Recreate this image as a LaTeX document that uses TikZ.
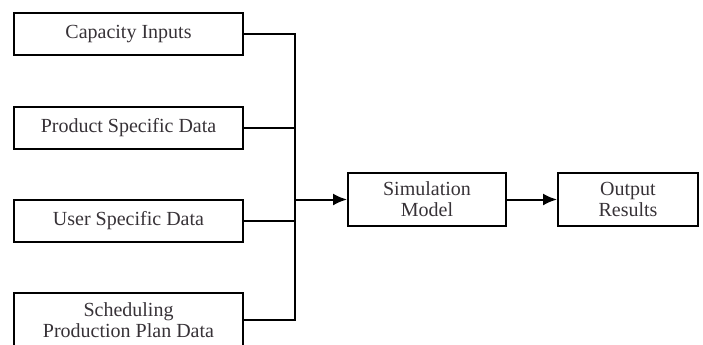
\documentclass[tikz,border=0pt]{standalone}
\usepackage{fontspec}
\setmainfont{Liberation Serif}
\usetikzlibrary{arrows.meta}
\definecolor{inktext}{RGB}{55,50,55}

\begin{document}
\begin{tikzpicture}[x=0.5pt,y=-0.5pt,
    box/.style={draw, line width=1pt, align=center, inner sep=0pt,
        minimum width=114.5pt, minimum height=21pt, text=inktext,
        font=\fontsize{10}{10.5}\selectfont},
    link/.style={line width=1pt},
    flow/.style={line width=1pt, -{Latex[length=7pt,width=6pt]}}]
    \useasboundingbox (0,0) rectangle (703,344);
    % inputs
    \node[box] (capacity) at (128.5,34) {Capacity Inputs};
    \node[box] (product) at (128.5,127.5) {Product Specific Data};
    \node[box] (user) at (128.5,220.5) {User Specific Data};
    \node[box, minimum height=27pt] (schedule) at (128.5,320) {Scheduling\\Production Plan Data};
    % model and results
    \node[box, minimum width=79pt, minimum height=26.5pt] (model) at (427,199.5) {Simulation\\Model};
    \node[box, minimum width=70pt, minimum height=26.5pt] (results) at (628,199.5) {Output\\Results};
    \coordinate (join) at (295,199.5);
    \draw[link] (capacity.east) -| (join);
    \draw[link] (product.east) -| (join);
    \draw[link] (user.east) -| (join);
    \draw[link] (schedule.east) -| (join);
    \draw[flow] (join) -- (model);
    \draw[flow] (model) -- (results);
\end{tikzpicture}
\end{document}
